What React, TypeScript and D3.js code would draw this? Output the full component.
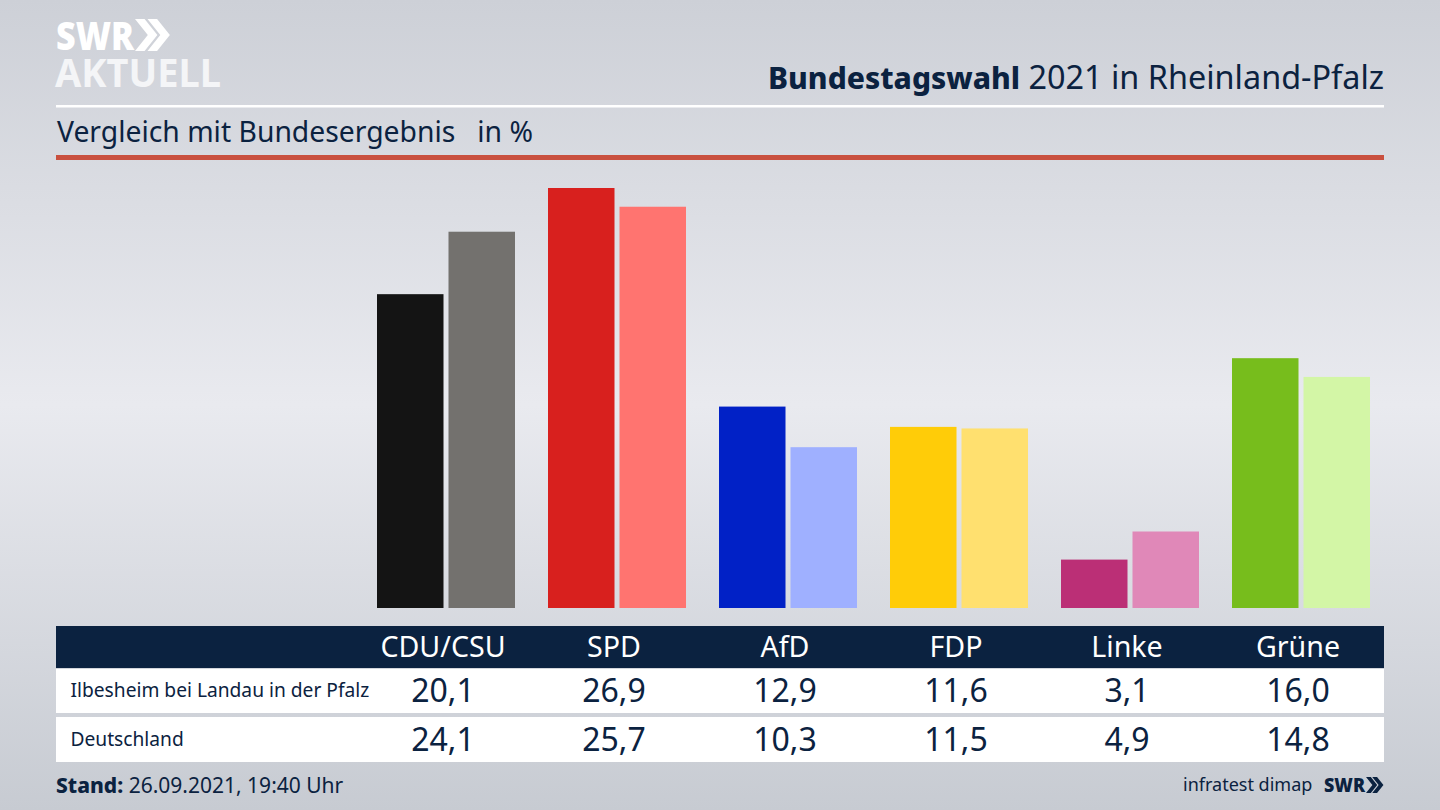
import React from "react";
import * as d3 from "d3";

const parties = ["CDU/CSU", "SPD", "AfD", "FDP", "Linke", "Grüne"];
const localValues = [20.1, 26.9, 12.9, 11.6, 3.1, 16.0];
const nationalValues = [24.1, 25.7, 10.3, 11.5, 4.9, 14.8];
const localColors = ["#141414", "#d8201e", "#0121c6", "#ffcc08", "#bb2f76", "#77bd1c"];
const nationalColors = ["#73716e", "#ff7470", "#9fb0ff", "#ffe06f", "#e088b8", "#d3f6a6"];
const rowLabels = ["Ilbesheim bei Landau in der Pfalz", "Deutschland"];

const W = 1440, H = 810;
const NAVY = "#0b2240";
const FONT = "'Noto Sans', sans-serif";
const fmt = (v: number) => v.toFixed(1).replace(".", ",");

const x = d3.scaleBand<string>().domain(parties).range([360.5, 1386.5]).padding(0);
const inner = d3.scaleBand<string>().domain(["local", "national"]).range([0, 138]).paddingInner(5 / 71.5);
const y = d3.scaleLinear().domain([0, 26.9]).range([608, 188]);

function Chevrons({ x0, y0, h, fill }: { x0: number; y0: number; h: number; fill: string }) {
  const w = h * 0.4;
  const t = h * 0.3;
  const one = (dx: number) =>
    `M${x0 + dx},${y0} h${t} l${w},${h / 2} l${-w},${h / 2} h${-t} l${w},${-h / 2} Z`;
  return <path d={one(0) + one(h * 0.39)} fill={fill} />;
}

export default function App() {
  const cx = (p: string) => (x(p) as number) + x.bandwidth() / 2;
  return (
    <svg width={W} height={H} viewBox={`0 0 ${W} ${H}`} style={{ position: "fixed", left: 0, top: 0, display: "block" }} fontFamily={FONT}>
      <defs>
        <linearGradient id="bg" x1="0" y1="0" x2="0" y2="1">
          <stop offset="0" stopColor="#cdd0d7" />
          <stop offset="0.5" stopColor="#e9eaef" />
          <stop offset="1" stopColor="#c7cbd2" />
        </linearGradient>
      </defs>
      <rect width={W} height={H} fill="url(#bg)" />

      {/* logo */}
      <text x={56} y={50} fontSize={38} fontWeight={900} fill="#fff" textLength={78} lengthAdjust="spacingAndGlyphs">SWR</text>
      <Chevrons x0={135} y0={19} h={32} fill="#fff" />
      <text x={55} y={87} fontSize={40} fontWeight={700} fill="#f4f5f7" textLength={166} lengthAdjust="spacingAndGlyphs">AKTUELL</text>

      {/* header */}
      <text x={1384} y={89} textAnchor="end" fontSize={32.4} fill={NAVY}>
        <tspan fontWeight={800} fontSize={30}>Bundestagswahl</tspan> 2021 in Rheinland-Pfalz
      </text>
      <rect x={56} y={105} width={1328} height={2.5} fill="#fff" />
      <text x={57} y={142} fontSize={28.3} fill={NAVY} xmlSpace="preserve">Vergleich mit Bundesergebnis   in %</text>
      <rect x={56} y={155} width={1328} height={5} fill="#c9503f" />

      {/* bars */}
      {parties.map((p, i) => (
        <g key={p} transform={`translate(${(x(p) as number) + 16.5},0)`}>
          <rect x={inner("local")} y={y(localValues[i])} width={inner.bandwidth()} height={608 - y(localValues[i])} fill={localColors[i]} />
          <rect x={inner("national")} y={y(nationalValues[i])} width={inner.bandwidth()} height={608 - y(nationalValues[i])} fill={nationalColors[i]} />
        </g>
      ))}

      {/* table */}
      <rect x={56} y={626} width={1328} height={42} fill={NAVY} />
      <rect x={56} y={669} width={1328} height={44} fill="#fff" />
      <rect x={56} y={717} width={1328} height={45} fill="#fff" />
      {parties.map((p, i) => (
        <g key={p} textAnchor="middle">
          <text x={cx(p) - 3} y={657} fontSize={28.6} fill="#fff">{p}</text>
          <text x={cx(p) - 3} y={702} fontSize={32} fill={NAVY}>{fmt(localValues[i])}</text>
          <text x={cx(p) - 3} y={751} fontSize={32} fill={NAVY}>{fmt(nationalValues[i])}</text>
        </g>
      ))}
      <text x={70.5} y={697} fontSize={19.2} fill={NAVY}>{rowLabels[0]}</text>
      <text x={70.5} y={746} fontSize={19.2} fill={NAVY}>{rowLabels[1]}</text>

      {/* footer */}
      <text x={56} y={793} fontSize={21} fill={NAVY}>
        <tspan fontWeight={800}>Stand:</tspan> 26.09.2021, 19:40 Uhr
      </text>
      <text x={1183} y={791} fontSize={18} fill={NAVY}>infratest dimap</text>
      <text x={1324} y={792} fontSize={20} fontWeight={900} fill={NAVY} textLength={41} lengthAdjust="spacingAndGlyphs">SWR</text>
      <Chevrons x0={1366} y0={777} h={16} fill={NAVY} />
    </svg>
  );
}
